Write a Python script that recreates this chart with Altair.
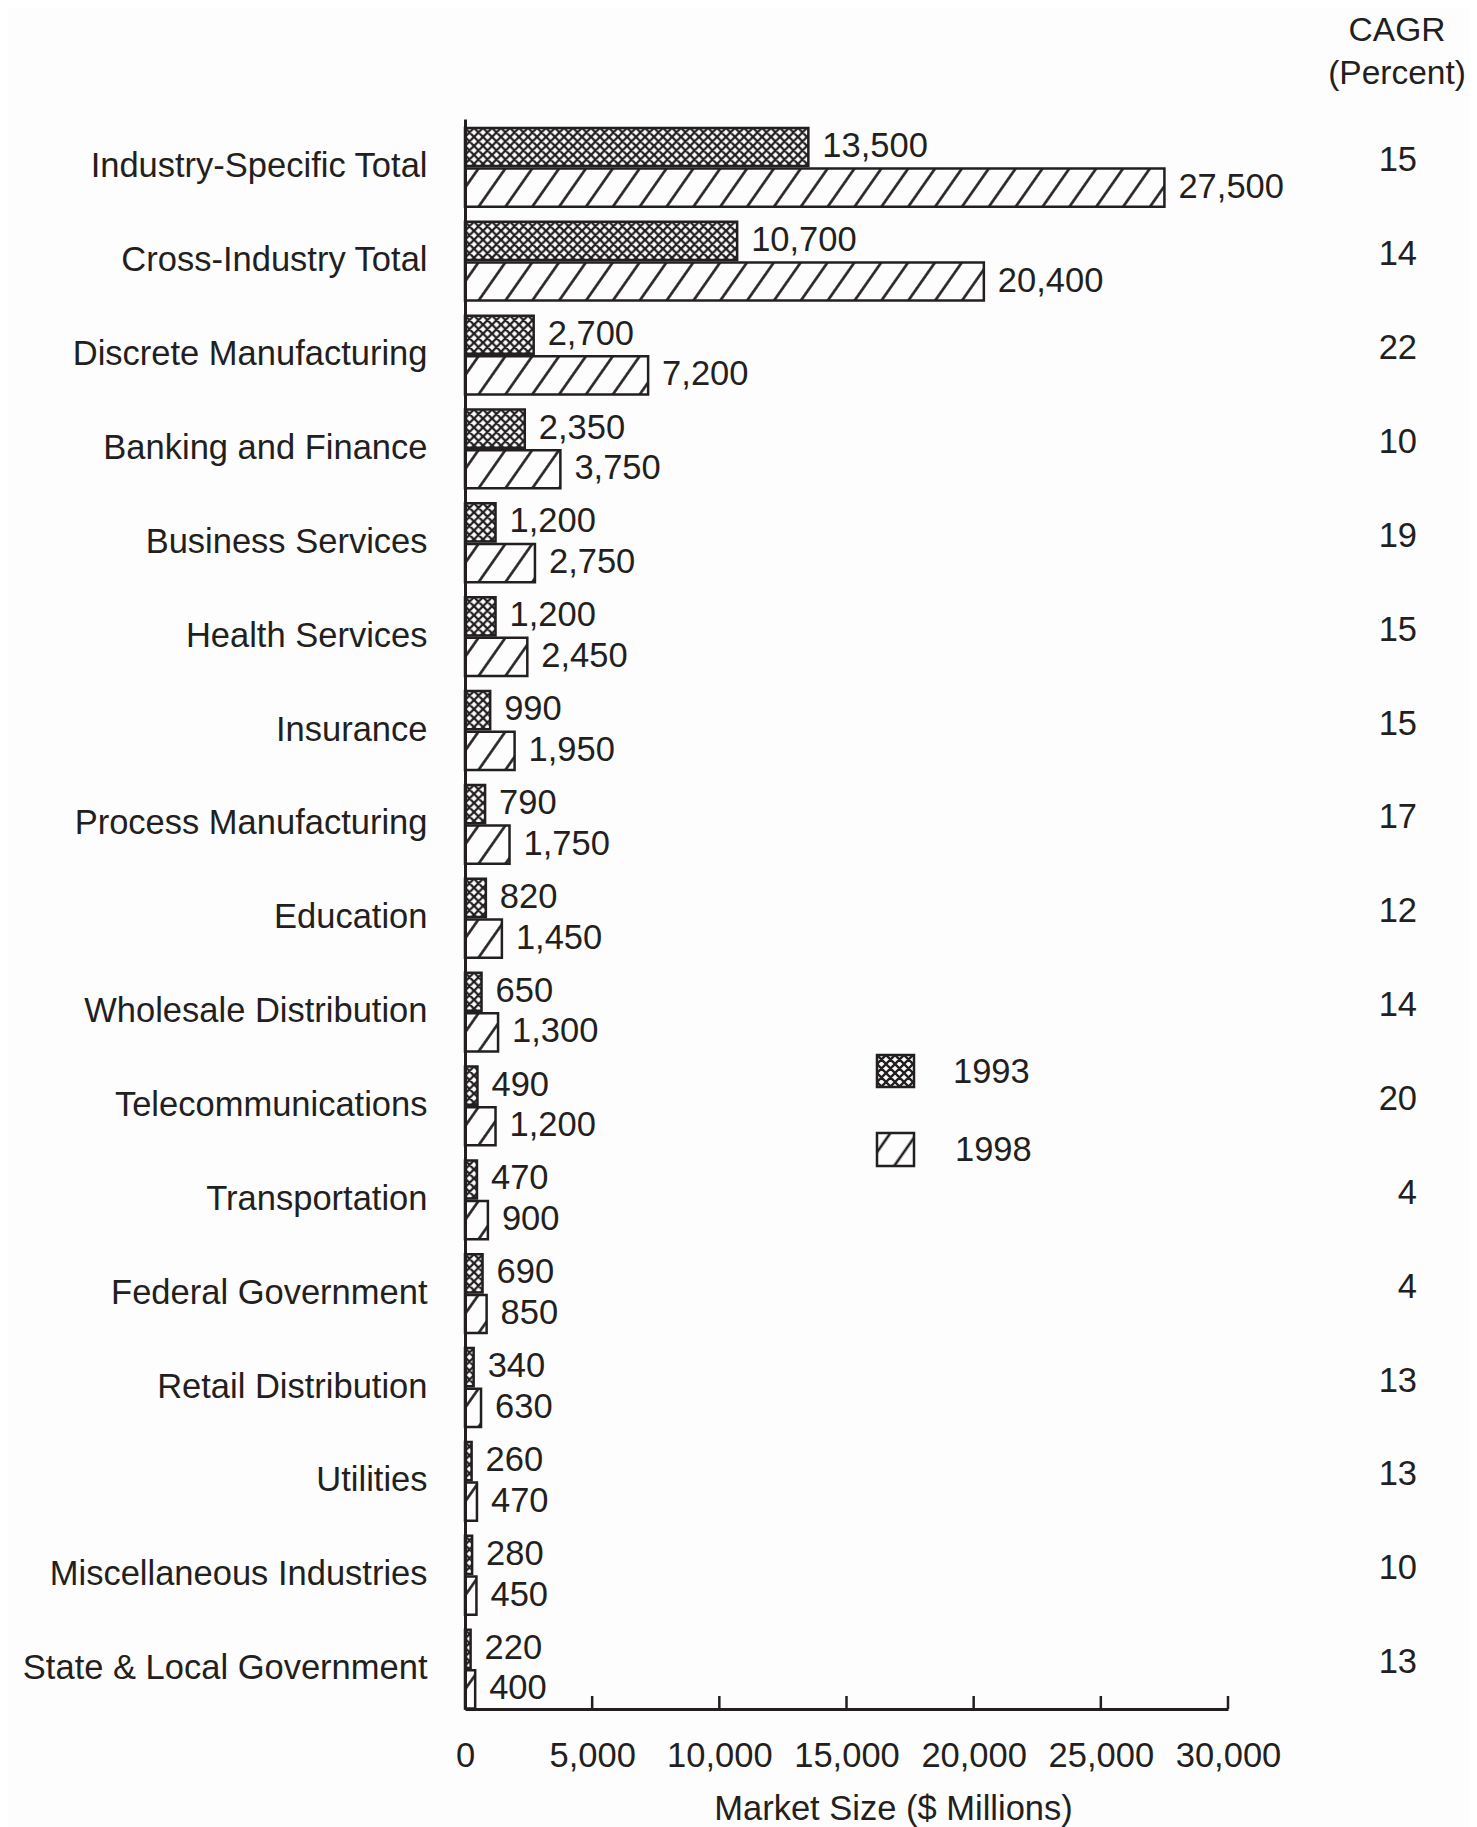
import altair as alt
import pandas as pd
from urllib.parse import quote

categories = [
    "Industry-Specific Total", "Cross-Industry Total", "Discrete Manufacturing",
    "Banking and Finance", "Business Services", "Health Services", "Insurance",
    "Process Manufacturing", "Education", "Wholesale Distribution",
    "Telecommunications", "Transportation", "Federal Government",
    "Retail Distribution", "Utilities", "Miscellaneous Industries",
    "State & Local Government",
]
v1993 = [13500, 10700, 2700, 2350, 1200, 1200, 990, 790, 820, 650, 490, 470, 690, 340, 260, 280, 220]
v1998 = [27500, 20400, 7200, 3750, 2750, 2450, 1950, 1750, 1450, 1300, 1200, 900, 850, 630, 470, 450, 400]
cagr = [15, 14, 22, 10, 19, 15, 15, 17, 12, 14, 20, 4, 4, 13, 13, 10, 13]
years = ["1993", "1998"]
xticks = [0, 5000, 10000, 15000, 20000, 25000, 30000]

rows = []
for c, a, b in zip(categories, v1993, v1998):
    rows.append({"category": c, "year": "1993", "value": a})
    rows.append({"category": c, "year": "1998", "value": b})
df = pd.DataFrame(rows)
cagr_df = pd.DataFrame({"category": categories, "cagr": cagr})
tick_df = pd.DataFrame({"value": xticks[1:]})
one = pd.DataFrame({"k": [0]})

INK = "#231f20"
FONT = "Liberation Sans"
FS = 34.5
W, H = 763, 1590


def svg_uri(body):
    svg = ("<svg xmlns='http://www.w3.org/2000/svg' width='100%' height='100%'>"
           + body + "</svg>")
    return "data:image/svg+xml;charset=utf-8," + quote(svg)


cross = svg_uri(
    "<defs><pattern id='p' width='9' height='9' patternUnits='userSpaceOnUse'>"
    "<path d='M0,9 L9,0 M-1,1 L1,-1 M8,10 L10,8 M0,0 L9,9 M-1,8 L1,10 M8,-1 L10,1' "
    "stroke='#231f20' stroke-width='2.3' fill='none'/>"
    "</pattern></defs><rect width='100%' height='100%' fill='url(#p)'/>")
diag = svg_uri(
    "<defs><pattern id='p' width='22' height='22' patternUnits='userSpaceOnUse' "
    "patternTransform='rotate(35)'>"
    "<line x1='11' y1='-2' x2='11' y2='24' stroke='#231f20' stroke-width='2.6'/>"
    "</pattern></defs><rect width='100%' height='100%' fill='url(#p)'/>")

x_scale = alt.Scale(domain=[0, 30000], nice=False, zero=True)
x_axis = alt.Axis(
    values=xticks, format=",", labelExpr="format(datum.value, ',')",
    ticks=False, grid=False, domainColor=INK,
    domainWidth=3, labelFontSize=FS, labelColor=INK, labelFont=FONT,
    labelPadding=30, labelFlush=False, title="Market Size ($ Millions)",
    titleFontSize=FS, titleFont=FONT, titleFontWeight="normal", titleColor=INK,
    titleX=428, titleY=100, titleBaseline="middle",
)
y_axis = alt.Axis(
    title=None, ticks=False, grid=False, domainColor=INK, domainWidth=3,
    labelFontSize=FS, labelColor=INK, labelFont=FONT, labelPadding=38,
    labelLimit=600,
)
y_enc = alt.Y("category:N", sort=categories,
              scale=alt.Scale(paddingInner=0.16, paddingOuter=0.05, align=0.95),
              axis=y_axis)
yoff = alt.YOffset("year:N", sort=years, scale=alt.Scale(paddingInner=0.06))
x_enc = alt.X("value:Q", scale=x_scale, axis=x_axis)

base = alt.Chart(df)

hatch93 = base.transform_filter(alt.datum.year == "1993").mark_image(aspect=False).encode(
    x=x_enc, x2=alt.datum(0), y=y_enc, yOffset=yoff, url=alt.value(cross))
hatch98 = base.transform_filter(alt.datum.year == "1998").mark_image(aspect=False).encode(
    x=x_enc, x2=alt.datum(0), y=y_enc, yOffset=yoff, url=alt.value(diag))
outline = base.mark_bar(fillOpacity=0, stroke=INK, strokeWidth=2.5).encode(
    x=x_enc, y=y_enc, yOffset=yoff)
labels = base.mark_text(align="left", baseline="middle", dx=14, fontSize=FS,
                        font=FONT, color=INK).encode(
    x=x_enc, y=y_enc, yOffset=yoff, text=alt.Text("value:Q", format=","))

cagr_txt = alt.Chart(cagr_df).mark_text(
    align="right", baseline="middle", dy=-6, fontSize=FS, font=FONT, color=INK
).encode(x=alt.value(952), y=alt.Y("category:N", sort=categories), text="cagr:Q")

hdr1 = alt.Chart(one).mark_text(align="center", baseline="middle", fontSize=33.5,
                                font=FONT, color=INK).encode(
    x=alt.value(932), y=alt.value(-88), text=alt.value("CAGR"))
hdr2 = alt.Chart(one).mark_text(align="center", baseline="middle", fontSize=33.5,
                                font=FONT, color=INK).encode(
    x=alt.value(932), y=alt.value(-45), text=alt.value("(Percent)"))

ticks = alt.Chart(tick_df).mark_rule(strokeWidth=2.5, color=INK).encode(
    x=x_enc, y=alt.value(H - 13), y2=alt.value(H))

leg_img93 = alt.Chart(one).mark_image(aspect=False).encode(
    x=alt.value(412), x2=alt.value(449), y=alt.value(936), y2=alt.value(968),
    url=alt.value(cross))
leg_box93 = alt.Chart(one).mark_rect(fillOpacity=0, stroke=INK, strokeWidth=2.5).encode(
    x=alt.value(412), x2=alt.value(449), y=alt.value(936), y2=alt.value(968))
leg_txt93 = alt.Chart(one).mark_text(align="left", baseline="middle", fontSize=FS,
                                     font=FONT, color=INK).encode(
    x=alt.value(488), y=alt.value(954), text=alt.value(years[0]))
leg_img98 = alt.Chart(one).mark_image(aspect=False).encode(
    x=alt.value(412), x2=alt.value(449), y=alt.value(1014), y2=alt.value(1047),
    url=alt.value(diag))
leg_box98 = alt.Chart(one).mark_rect(fillOpacity=0, stroke=INK, strokeWidth=2.5).encode(
    x=alt.value(412), x2=alt.value(449), y=alt.value(1014), y2=alt.value(1047))
leg_txt98 = alt.Chart(one).mark_text(align="left", baseline="middle", fontSize=FS,
                                     font=FONT, color=INK).encode(
    x=alt.value(490), y=alt.value(1032), text=alt.value(years[1]))

chart = alt.layer(
    hatch93, hatch98, outline, labels, cagr_txt, hdr1, hdr2, ticks,
    leg_img93, leg_box93, leg_txt93, leg_img98, leg_box98, leg_txt98,
).properties(
    width=W, height=H,
    autosize=alt.AutoSizeParams(type="none"),
    padding={"left": 457, "top": 111, "right": 241, "bottom": 130},
    background="#fdfdfd",
).configure_view(stroke=None)

chart.save("out.html", embed_options={"renderer": "svg", "actions": False})
